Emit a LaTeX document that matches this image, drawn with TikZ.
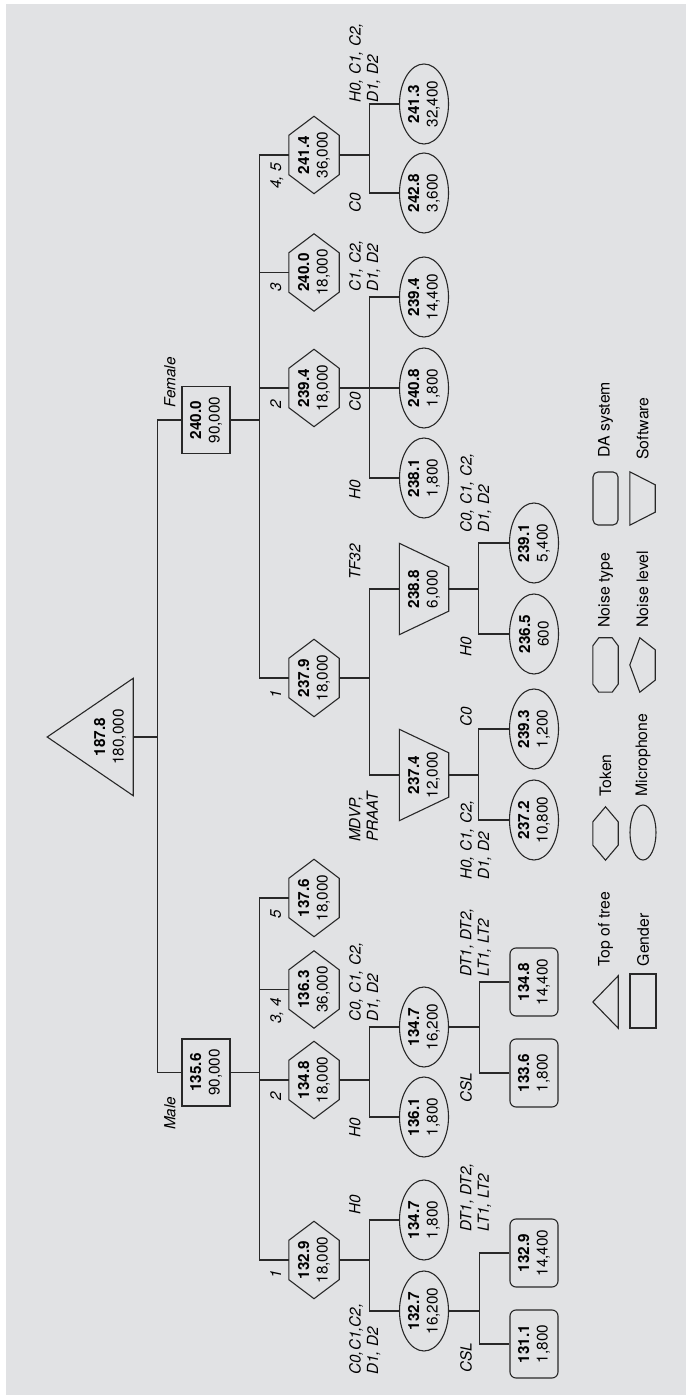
\documentclass[tikz,border=0pt]{standalone}
\usepackage{fontspec}
\setmainfont{TeX Gyre Heros}
\usepackage{tikz}
\usetikzlibrary{shapes,shapes.geometric,positioning,calc}
\definecolor{bggris}{RGB}{225,226,228}
\definecolor{ink}{RGB}{40,40,40}

\begin{document}
\begin{tikzpicture}[
  x=1pt, y=1pt, rotate=90, transform shape,
  every node/.style={font=\fontsize{15.3}{18.5}\selectfont, inner sep=0pt, align=center},
  gender/.style={rectangle, draw=ink, line width=1.1pt, minimum width=67, minimum height=48},
  token/.style={rectangle, minimum width=77, minimum height=50},
  micro/.style={ellipse, draw=ink, line width=1.1pt, minimum width=80, minimum height=49},
  soft/.style={rectangle, minimum width=91, minimum height=49},
  dasys/.style={rectangle, rounded corners=6pt, draw=ink, line width=1.1pt, minimum width=68, minimum height=48},
  lab/.style={font=\fontsize{15.3}{17.5}\selectfont\itshape, align=left, anchor=north west},
  toklab/.style={font=\fontsize{15.3}{17.5}\selectfont\itshape, anchor=north east},
  outline/.style={draw=ink, line width=1.1pt},
  link/.style={draw=ink, line width=1.1pt,
    to path={|- ($(\tikztostart)!.5!(\tikztotarget)$) -| (\tikztotarget)}},
  legtxt/.style={font=\fontsize{15.8}{18}\selectfont}
]
  \useasboundingbox (0,-686) rectangle (1395,0);
  \fill[bggris] (0,-686) rectangle (1391,-6);

  % Top of tree
  \node[minimum width=117, minimum height=46] (root) at (658,-110) {\textbf{187.8}\\180,000};
  \draw[outline] (root.south west) -- ($(root.south)+(0,86)$) -- (root.south east) -- cycle;

  % Gender
  \node[gender] (male) at (322.5,-206) {\textbf{135.6}\\90,000};
  \node[gender] (female) at (975,-206) {\textbf{240.0}\\90,000};
  \node[lab] (lmale) at (265,-164) {Male};
  \node[lab] (lfemale) at (987,-164) {Female};

  % Tokens
  \node[token] (m1) at (135,-314) {\textbf{132.9}\\18,000};
  \node[token] (m2) at (315,-314) {\textbf{134.8}\\18,000};
  \node[token] (m3) at (405.5,-314) {\textbf{136.3}\\36,000};
  \node[token] (m4) at (497,-314) {\textbf{137.6}\\18,000};
  \node[token] (f1) at (717,-314) {\textbf{237.9}\\18,000};
  \node[token] (f2) at (1007,-314) {\textbf{239.4}\\18,000};
  \node[token] (f3) at (1122.5,-314) {\textbf{240.0}\\18,000};
  \node[token] (f4) at (1240,-314) {\textbf{241.4}\\36,000};
  \node[toklab] (lm1) at (125,-270) {1};
  \node[toklab] (lm2) at (303,-270) {2};
  \node[toklab] (lm3) at (397,-270) {3, 4};
  \node[toklab] (lm4) at (485,-270) {5};
  \node[toklab] (lf1) at (705,-270) {1};
  \node[toklab] (lf2) at (995,-270) {2};
  \node[toklab] (lf3) at (1112,-270) {3};
  \node[toklab] (lf4) at (1232,-270) {4, 5};

  % Microphones, noise and software
  \node[micro] (m1a) at (84,-424) {\textbf{132.7}\\16,200};
  \node[micro] (m1b) at (175,-424) {\textbf{134.7}\\1,800};
  \node[micro] (m2a) at (278,-424) {\textbf{136.1}\\1,800};
  \node[micro] (m2b) at (368,-424) {\textbf{134.7}\\16,200};
  \node[soft] (f1a) at (620,-424) {\textbf{237.4}\\12,000};
  \node[soft] (f1b) at (806,-424) {\textbf{238.8}\\6,000};
  \node[micro] (f2a) at (917,-424) {\textbf{238.1}\\1,800};
  \node[micro] (f2b) at (1007,-424) {\textbf{240.8}\\1,800};
  \node[micro] (f2c) at (1098,-424) {\textbf{239.4}\\14,400};
  \node[micro] (f4a) at (1202,-424) {\textbf{242.8}\\3,600};
  \node[micro] (f4b) at (1291,-424) {\textbf{241.3}\\32,400};
  \node[lab] (lm1a) at (20,-349) {C0,C1,C2,\\D1, D2};
  \node[lab] (lm1b) at (180,-349) {H0};
  \node[lab] (lm2a) at (257,-349) {H0};
  \node[lab] (lm2b) at (373,-349) {C0, C1, C2,\\D1, D2};
  \node[lab] (lf1a) at (553,-349) {MDVP,\\PRAAT};
  \node[lab] (lf1b) at (815,-349) {TF32};
  \node[lab] (lf2a) at (895,-349) {H0};
  \node[lab] (lf2b) at (983,-349) {C0};
  \node[lab] (lf2c) at (1103,-349) {C1, C2,\\D1, D2};
  \node[lab] (lf4a) at (1182,-349) {C0};
  \node[lab] (lf4b) at (1292,-349) {H0, C1, C2,\\D1, D2};

  % DA systems and noise levels
  \node[dasys] (m1a1) at (51,-534) {\textbf{131.1}\\1,800};
  \node[dasys] (m1a2) at (142,-534) {\textbf{132.9}\\14,400};
  \node[dasys] (m2b1) at (322,-534) {\textbf{133.6}\\1,800};
  \node[dasys] (m2b2) at (413,-534) {\textbf{134.8}\\14,400};
  \node[micro] (f1a1) at (575,-534) {\textbf{237.2}\\10,800};
  \node[micro] (f1a2) at (666,-534) {\textbf{239.3}\\1,200};
  \node[micro] (f1b1) at (761,-534) {\textbf{236.5}\\600};
  \node[micro] (f1b2) at (852,-534) {\textbf{239.1}\\5,400};
  \node[lab] (lm1a1) at (22,-460) {CSL};
  \node[lab] (lm1a2) at (163,-460) {DT1, DT2,\\LT1, LT2};
  \node[lab] (lm2b1) at (292,-460) {CSL};
  \node[lab] (lm2b2) at (418,-460) {DT1, DT2,\\LT1, LT2};
  \node[lab] (lf1a1) at (515,-460) {H0, C1, C2,\\D1, D2};
  \node[lab] (lf1a2) at (668,-460) {C0};
  \node[lab] (lf1b1) at (738,-460) {H0};
  \node[lab] (lf1b2) at (862,-460) {C0, C1, C2,\\D1, D2};

  % Legend
  \node[minimum width=52, minimum height=25] (ltop) at (393,-605.5) {};
  \draw[outline] (ltop.north) -- (ltop.south east) -- (ltop.south west) -- cycle;
  \node[legtxt, right=9pt of ltop] (ttop) {Top of tree};
  \node[gender, minimum width=54, minimum height=26] (lgen) at (394,-643) {};
  \node[legtxt, right=7pt of lgen] (tgen) {Gender};
  \node[minimum width=53, minimum height=25] (ltok) at (561.5,-605.5) {};
  \node[legtxt, right=10pt of ltok] (ttok) {Token};
  \node[micro, minimum width=55, minimum height=26] (lmic) at (562.5,-643) {};
  \node[legtxt, right=8pt of lmic] (tmic) {Microphone};
  \node[minimum width=54, minimum height=25] (lntype) at (730,-605.5) {};
  \draw[outline] ($(lntype.north west)+(8,0)$) -- ($(lntype.north east)+(-8,0)$)
    -- ($(lntype.north east)+(0,-6)$) -- ($(lntype.south east)+(0,6)$)
    -- ($(lntype.south east)+(-8,0)$) -- ($(lntype.south west)+(8,0)$)
    -- ($(lntype.south west)+(0,6)$) -- ($(lntype.north west)+(0,-6)$) -- cycle;
  \node[legtxt, right=10pt of lntype] (tntype) {Noise type};
  \node[minimum width=54, minimum height=25] (lnlev) at (730,-642.5) {};
  \draw[outline] (lnlev.north) -- ($(lnlev.north east)+(0,-10)$)
    -- ($(lnlev.south east)+(-12,0)$) -- ($(lnlev.south west)+(12,0)$)
    -- ($(lnlev.north west)+(0,-10)$) -- cycle;
  \node[legtxt, right=10pt of lnlev] (tnlev) {Noise level};
  \node[dasys, minimum width=53, minimum height=25, rounded corners=5pt] (lda) at (896.5,-605.5) {};
  \node[legtxt, right=14pt of lda] (tda) {DA system};
  \node[minimum width=53, minimum height=25] (lsoft) at (896.5,-642.5) {};
  \node[legtxt, right=12pt of lsoft] (tsoft) {Software};

  % Token and software outlines
  \foreach \n/\d in {m1/19,m2/19,m3/19,m4/19,f1/19,f2/19,f3/19,f4/19,ltok/15}
    \draw[outline] (\n.west) -- ($(\n.north west)+(\d,0)$) -- ($(\n.north east)+(-\d,0)$)
      -- (\n.east) -- ($(\n.south east)+(-\d,0)$) -- ($(\n.south west)+(\d,0)$) -- cycle;
  \foreach \n/\d in {f1a/23.5,f1b/23.5,lsoft/13}
    \draw[outline] (\n.north west) -- (\n.north east) -- ($(\n.south east)+(-\d,0)$)
      -- ($(\n.south west)+(\d,0)$) -- cycle;

  % Relations
  \draw[link] (root.south) to (male.north);
  \draw[link] (root.south) to (female.north);
  \draw[link] (male.south) to (m1.north);
  \draw[link] (male.south) to (m2.north);
  \draw[link] (male.south) to (m3.north);
  \draw[link] (male.south) to (m4.north);
  \draw[link] (female.south) to (f1.north);
  \draw[link] (female.south) to (f2.north);
  \draw[link] (female.south) to (f3.north);
  \draw[link] (female.south) to (f4.north);
  \draw[link] (m1.south) to (m1a.north);
  \draw[link] (m1.south) to (m1b.north);
  \draw[link] (m2.south) to (m2a.north);
  \draw[link] (m2.south) to (m2b.north);
  \draw[link] (f1.south) to (f1a.north);
  \draw[link] (f1.south) to (f1b.north);
  \draw[link] (f2.south) to (f2a.north);
  \draw[link] (f2.south) to (f2b.north);
  \draw[link] (f2.south) to (f2c.north);
  \draw[link] (f4.south) to (f4a.north);
  \draw[link] (f4.south) to (f4b.north);
  \draw[link] (m1a.south) to (m1a1.north);
  \draw[link] (m1a.south) to (m1a2.north);
  \draw[link] (m2b.south) to (m2b1.north);
  \draw[link] (m2b.south) to (m2b2.north);
  \draw[link] (f1a.south) to (f1a1.north);
  \draw[link] (f1a.south) to (f1a2.north);
  \draw[link] (f1b.south) to (f1b1.north);
  \draw[link] (f1b.south) to (f1b2.north);
\end{tikzpicture}
\end{document}
